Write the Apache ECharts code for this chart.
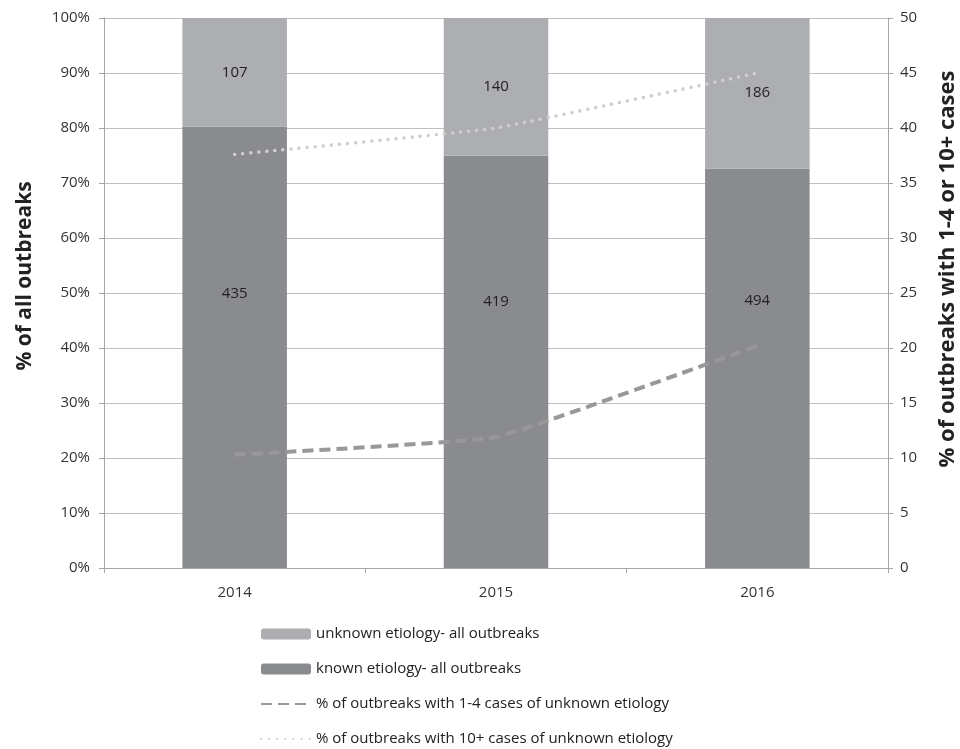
<!DOCTYPE html>
<html><head><meta charset="utf-8">
<script src="https://cdn.jsdelivr.net/npm/echarts@6/dist/echarts.min.js"></script>
<style>html,body{margin:0;padding:0;background:#fff}#c{width:960px;height:749px}</style>
</head><body><div id="c"></div>
<script>
var years = ['2014', '2015', '2016'];
var knownCounts = [435, 419, 494];
var unknownCounts = [107, 140, 186];
var pct14 = [10.3, 11.9, 20.2];
var pct10 = [37.6, 40.0, 45.0];
var leftTicks = [0, 10, 20, 30, 40, 50, 60, 70, 80, 90, 100];

var knownPct = knownCounts.map(function(k, i){ return k / (k + unknownCounts[i]) * 100; });
var unknownPct = unknownCounts.map(function(u, i){ return u / (u + knownCounts[i]) * 100; });
var knownLabelOffsets = [-54, -60, -67];

var FONT = '"Open Sans", "Liberation Sans", sans-serif';
var N1 = 'unknown etiology- all outbreaks';
var N2 = 'known etiology- all outbreaks';
var N3 = '% of outbreaks with 1-4 cases of unknown etiology';
var N4 = '% of outbreaks with 10+ cases of unknown etiology';
var chart = echarts.init(document.getElementById('c'));
chart.setOption({
  animation: false,
  textStyle: { fontFamily: FONT },
  grid: { left: 104, right: 72, top: 18, bottom: 181, outerBoundsMode: 'none', containLabel: false },
  legend: {
    orient: 'vertical', left: 260, top: 625, itemGap: 17, padding: 0, height: 135,
    itemWidth: 50, itemHeight: 11,
    textStyle: { fontSize: 15, lineHeight: 18, color: '#222', fontFamily: FONT },
    data: [N1, N2,
      { name: N3, itemStyle: { opacity: 0 } },
      { name: N4, itemStyle: { opacity: 0 } }]
  },
  xAxis: {
    type: 'category', data: years,
    axisLine: { lineStyle: { color: '#a6a6a6' } },
    axisTick: { show: true, length: 5, lineStyle: { color: '#a6a6a6' } },
    axisLabel: { color: '#333', fontSize: 15, margin: 17 }
  },
  yAxis: [{
    type: 'value', min: 0, max: 100, interval: 10,
    name: '% of all outbreaks', nameLocation: 'middle', nameGap: 68,
    nameTextStyle: { fontSize: 21, fontWeight: 'bold', color: '#222', padding: [0, 0, 0, 34] },
    axisLine: { show: true, lineStyle: { color: '#a6a6a6' } },
    axisTick: { show: true, length: 5, lineStyle: { color: '#a6a6a6' } },
    axisLabel: { color: '#333', fontSize: 15, margin: 14, formatter: function(v){ return leftTicks.indexOf(v) >= 0 ? v + '%' : ''; } },
    splitLine: { lineStyle: { color: '#bfbfbf' } }
  }, {
    type: 'value', min: 0, max: 50, interval: 5, position: 'right',
    name: '% of outbreaks with 1-4 or 10+ cases', nameLocation: 'middle', nameGap: 49, nameRotate: 90,
    nameTextStyle: { fontSize: 22, fontWeight: 'bold', color: '#222', padding: [0, 0, 0, 48] },
    axisLine: { show: true, lineStyle: { color: '#a6a6a6' } },
    axisTick: { show: true, length: 5, lineStyle: { color: '#a6a6a6' } },
    axisLabel: { color: '#333', fontSize: 15, margin: 12 },
    splitLine: { show: false }
  }],
  series: [{
    name: N2, type: 'bar', stack: 's', barWidth: '40%',
    itemStyle: { color: '#8a8b8e' },
    data: knownPct.map(function(v, i){
      return { value: v, label: { show: true, position: 'inside', offset: [0, knownLabelOffsets[i]], formatter: String(knownCounts[i]) } };
    }),
    label: { color: '#222', fontSize: 15 }
  }, {
    name: N1, type: 'bar', stack: 's', barWidth: '40%',
    itemStyle: { color: '#adaeb1' },
    data: unknownPct.map(function(v, i){
      return { value: v, label: { show: true, position: 'inside', formatter: String(unknownCounts[i]) } };
    }),
    label: { color: '#222', fontSize: 15 }
  }, {
    name: N3, type: 'line', yAxisIndex: 1,
    data: pct14, smooth: 0.1, symbol: 'none', z: 5,
    lineStyle: { color: '#98989b', width: 4, type: [11, 6], cap: 'butt' },
    itemStyle: { color: '#98989b' }
  }, {
    name: N4, type: 'line', yAxisIndex: 1,
    data: pct10, smooth: 0.1, symbol: 'none', z: 5,
    lineStyle: { color: '#cfcfd1', width: 3.5, type: [0.1, 8], cap: 'round' },
    itemStyle: { color: '#cfcfd1' }
  }]
});
</script></body></html>
